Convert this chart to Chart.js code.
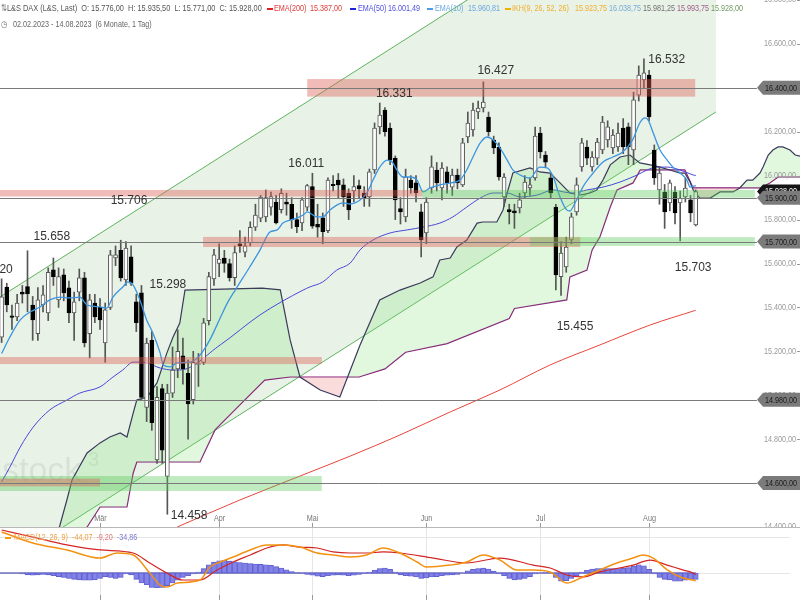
<!DOCTYPE html>
<html>
<head>
<meta charset="utf-8">
<script src="https://cdn.jsdelivr.net/npm/chart.js@4.4.0/dist/chart.umd.min.js"></script>
<style>
  body { margin: 0; background: #fff; }
  #wrap { position: relative; width: 800px; height: 600px; overflow: hidden; }
  canvas { position: absolute; left: 0; }
  #main { top: 0; }
  #sep { position: absolute; left: 0; top: 527px; width: 800px; height: 1px; background: #b8b8b8; }
  #macd { top: 528px; }
  .t { position: absolute; white-space: nowrap; font: 9px 'Liberation Sans', Arial, sans-serif;
       transform: scaleX(0.8); transform-origin: 0 0; }
  .d { position: absolute; height: 2px; width: 6px; }
</style>
</head>
<body>
<div id="wrap">
  <canvas id="main" width="800" height="527"></canvas>
  <div id="sep"></div>
  <canvas id="macd" width="800" height="72"></canvas>

  <div class="t" style="left:1px;top:3px;color:#777">⇅</div>
  <div class="t" style="left:7px;top:3px;color:#555;transform:scaleX(0.82)">L&amp;S DAX (L&amp;S, Last)&nbsp; O: 15.776,00&nbsp; H: 15.935,50&nbsp; L: 15.771,00&nbsp; C: 15.928,00</div>
  <div class="d" style="left:267px;top:8px;background:#e02020"></div>
  <div class="t" style="left:274px;top:3px;color:#e03a3a">EMA(200)</div>
  <div class="t" style="left:310px;top:3px;color:#e03a3a">15.387,00</div>
  <div class="d" style="left:350px;top:8px;background:#2020e0"></div>
  <div class="t" style="left:358px;top:3px;color:#5050e0">EMA(50)</div>
  <div class="t" style="left:388px;top:3px;color:#5050e0">16.001,49</div>
  <div class="d" style="left:427px;top:8px;background:#4a9ee8"></div>
  <div class="t" style="left:435px;top:3px;color:#6aa8e0">EMA(10)</div>
  <div class="t" style="left:468px;top:3px;color:#6aa8e0">15.960,81</div>
  <div class="d" style="left:505px;top:8px;background:#f0b000"></div>
  <div class="t" style="left:512px;top:3px;color:#f0b030">IKH(9, 26, 52, 26)</div>
  <div class="t" style="left:575px;top:3px;color:#f0b030">15.923,75</div>
  <div class="t" style="left:609px;top:3px;color:#78acd8">16.038,75</div>
  <div class="t" style="left:643px;top:3px;color:#707070">15.981,25</div>
  <div class="t" style="left:677px;top:3px;color:#9a5a8a">15.993,75</div>
  <div class="t" style="left:711px;top:3px;color:#6f9a60">15.928,00</div>
  <div class="t" style="left:1px;top:19px;color:#777">◷</div>
  <div class="t" style="left:13px;top:19px;color:#666">02.02.2023 - 14.08.2023&nbsp; (6 Monate, 1 Tag)</div>

  <div class="d" style="left:5px;top:537px;background:#f39c12"></div>
  <div class="t" style="left:14px;top:532px;color:#f0a040">MACD(12, 26, 9)&nbsp; -44,07&nbsp; <span style="color:#e07a7a">-9,20</span>&nbsp; <span style="color:#7a7ad0">-34,86</span></div>
</div>

<script>
'use strict';

// --- daily candles 02.02.2023 .. 14.08.2023 (index = trading day)
var opens = [
  15265,15493,15362,15357,15470,15495,15411,15280,15411,15375,
  15571,15434,15548,15489,15375,15470,15535,15280,15420,15400,
  15238,15400,15625,15660,15525,15630,15425,15466,14945,15250,
  14705,15030,14630,15010,15120,15180,15100,14980,15140,15150,
  15340,15530,15600,15625,15600,15535,15690,15652,15695,15765,
  15807,15812,15857,15880,15845,15880,15870,15800,15785,15857,
  15950,15778,15808,15750,15960,15980,15958,15920,15930,15955,
  15920,15903,16026,16222,16299,16217,16080,15850,15812,15980,
  15967,15835,15739,15944,16026,15944,16017,15948,16003,15958,
  16176,16208,16290,16308,16267,16162,16130,15903,15845,15840,
  15853,15921,15944,15990,16194,16094,15990,15857,15540,15584,
  15707,15835,16040,16130,16040,16080,16117,16163,16126,16131,
  16217,16222,16117,16367,16436,16458,16117,15935,15925,15876,
  15925,15876,15903,15890,15776
];
var highs = [
  15530,15510,15411,15460,15500,15658,15450,15490,15500,15580,
  15625,15580,15575,15520,15470,15575,15560,15460,15460,15440,
  15420,15660,15680,15706,15700,15680,15460,15500,15260,15290,
  15040,15050,15050,15220,15298,15260,15160,15200,15190,15350,
  15560,15665,15690,15660,15620,15680,15750,15720,15790,15870,
  15910,15935,15925,15910,15940,15920,15900,15830,15900,15960,
  16011,15870,15830,15990,16000,16010,15985,15940,16000,15980,
  15950,16030,16240,16331,16310,16240,16090,15900,16030,16000,
  16000,15870,15900,16090,16060,16060,16040,16030,16030,16170,
  16290,16330,16340,16427,16290,16180,16150,16010,15870,15870,
  15920,16000,15990,16221,16220,16110,16010,15870,15700,15720,
  15830,15990,16170,16160,16110,16170,16270,16250,16210,16240,
  16260,16240,16380,16500,16532,16480,16140,16040,15960,15980,
  15950,15930,15990,15910,15935.5
];
var lows = [
  15240,15380,15300,15340,15420,15380,15250,15250,15380,15340,
  15500,15400,15430,15330,15250,15430,15220,15170,15330,15300,
  15150,15390,15590,15520,15500,15500,15290,14980,14880,14840,
  14690,14690,14458,14990,15080,15050,14800,14960,15040,15140,
  15320,15500,15540,15560,15520,15500,15650,15630,15680,15750,
  15790,15790,15820,15780,15830,15820,15760,15740,15750,15840,
  15760,15720,15690,15740,15930,15900,15860,15800,15880,15900,
  15860,15860,16010,16190,16180,16050,15800,15780,15790,15920,
  15880,15630,15690,15920,15930,15890,15920,15910,15940,15950,
  16150,16180,16260,16290,16180,16100,15980,15860,15780,15760,
  15830,15900,15910,15980,16080,16040,15900,15480,15455,15560,
  15690,15820,16020,16050,16020,16050,16100,16130,16100,16110,
  16100,16050,16050,16340,16400,16250,15960,15870,15760,15840,
  15780,15703,15880,15790,15771
];
var closes = [
  15448,15411,15355,15420,15460,15462,15343,15434,15457,15560,
  15540,15540,15466,15375,15425,15535,15238,15434,15357,15343,
  15389,15640,15640,15534,15670,15510,15330,14990,15238,14875,
  14990,14750,15010,15115,15200,15120,14960,15150,15140,15330,
  15540,15640,15620,15600,15535,15650,15680,15680,15765,15820,
  15903,15900,15905,15785,15920,15870,15800,15768,15890,15955,
  15770,15766,15745,15980,15955,15958,15903,15844,15950,15940,
  15900,16017,16217,16276,16200,16071,15890,15835,15994,15944,
  15921,15707,15880,16040,15967,16035,15967,16003,15967,16149,
  16240,16299,16308,16335,16200,16126,15994,15994,15835,15830,
  15890,15971,15958,16180,16108,16062,15921,15548,15648,15675,
  15812,15958,16149,16080,16085,16153,16244,16222,16185,16194,
  16131,16131,16345,16458,16468,16267,15990,16012,15835,15967,
  15830,15898,15944,15830,15928
];

// --- month ticks (trading day index of first day)
var monthIdx = [19, 42, 60, 82, 104, 125];
var monthNames = ['Mär', 'Apr', 'Mai', 'Jun', 'Jul', 'Aug'];

// --- EMAs [index, value]
var ema10 = [[0,15190],[1.6,15265],[3.6,15343],[5.5,15379],[7.4,15402],[9.3,15434],[11.3,15447],[13.2,15443],[15.1,15447],[16.5,15411],
  [19,15402],[20.3,15397],[21.5,15447],[23.4,15493],[24.4,15516],[25.4,15502],[26.7,15434],[28,15343],[29.2,15284],[30.6,15193],
  [31.2,15138],[32.5,15129],[33.9,15147],[36.4,15151],[38.3,15183],[40.2,15252],[42.2,15352],[43.7,15425],[45.1,15479],[47.9,15584],
  [49.9,15662],[51.8,15743],[53.2,15753],[54.3,15784],[55.7,15798],[57,15807],[58.2,15821],[59,15835],[60.9,15812],[62,15812],
  [63.4,15844],[64.7,15866],[65.9,15876],[67.3,15871],[69.2,15889],[70.5,15921],[71.7,15980],[73,16039],[74.4,16071],[75.4,16062],
  [76.3,16026],[77.5,15994],[78.8,15994],[80.2,15980],[81.4,15926],[82.7,15944],[84.6,15958],[86.6,15967],[88.5,15980],[89.8,16026],
  [91,16085],[92.4,16149],[93.7,16176],[94.9,16162],[96.2,16126],[97.6,16071],[98.7,16026],[100.1,16003],[102,15989],[103.9,16039],
  [105.3,16035],[106.5,15994],[107.8,15903],[109.1,15844],[109.7,15839],[110.7,15876],[112.2,15948],[114.2,16012],[116.1,16062],[118,16085],
  [119.9,16108],[121.8,16162],[123.2,16240],[124.2,16263],[124.8,16254],[125.8,16194],[127.1,16117],[128.5,16071],[129.6,16039],[131,16012],
  [132.3,15980],[132.9,15948],[134,15955]];
var ema50 = [[0,14605],[1.6,14673],[3.6,14764],[6.1,14855],[9.3,14933],[12.6,14978],[15.1,15010],[19,15038],[21.5,15083],[23.4,15115],
  [25.4,15151],[26.7,15151],[28.1,15147],[30.6,15124],[33.1,15115],[34.4,15115],[42.2,15229],[49.9,15366],[58.2,15479],[59.5,15493],
  [62,15516],[64.7,15570],[67.3,15602],[69.2,15662],[71.7,15707],[75,15739],[78.3,15753],[81.4,15766],[84.6,15784],[87.1,15812],
  [89.8,15857],[92.4,15898],[94.9,15921],[97.6,15921],[100.1,15903],[103.4,15912],[106.5,15935],[108.5,15926],[110.3,15921],[113,15935],
  [116.1,15948],[119.4,15971],[121.3,15989],[122.7,16003],[124.6,16026],[126.5,16039],[128.5,16039],[131,16026],[133.5,16003],[134,16001]];
var ema200 = [[33.9,14400],[46,14523],[57.6,14632],[67.3,14723],[76.9,14819],[86.6,14924],[96.2,15024],[105.9,15138],[115.5,15229],[125.2,15320],[134,15387]];

// --- Ichimoku cloud lines (Senkou A / Senkou B), shifted 26 days forward
var spanA = [[10,14300],[12.6,14523],[13.6,14614],[16.5,14737],[19,14783],[20.9,14810],[22.9,14828],[24.2,14810],[25.4,14919],[26.1,14978],
  [28.1,14992],[30,15056],[31.9,15192],[33.1,15265],[34.4,15329],[35.4,15479],[50.3,15488],[53.8,15480],[55.7,15252],[57.6,15083],
  [61.5,15024],[65.3,14992],[69.2,15229],[73,15434],[76.9,15479],[80.8,15511],[83.3,15539],[84.6,15616],[86.6,15625],[87.9,15675],
  [89.8,15707],[91.8,15784],[92.9,15789],[95.6,15789],[96.8,15844],[97.6,15921],[98.7,16012],[102,16035],[103.9,16017],[105.9,16012],
  [107.8,15967],[109.7,15921],[111.7,15912],[113.6,15921],[114.9,15935],[116.1,15980],[117.5,16049],[119.4,16085],[121.3,16094],[123.2,16058],
  [125.2,16049],[127.1,16039],[129,16026],[131,16012],[131.9,16012],[132.9,15971],[133.5,15935],[134.8,15898],[136.8,15898],[138.7,15926],
  [141.2,15926],[142.5,15944],[143.9,15980],[145,15980],[146.4,16012],[147,16039],[148,16094],[148.9,16117],[149.9,16131],[150.8,16131],
  [152.2,16117],[153.2,16094],[155,16085]];
var spanB = [[10,14250],[16.5,14400],[19,14491],[24.2,14491],[25.4,14646],[26.1,14696],[38.3,14696],[41.2,14842],[46,14956],[50.8,15069],
  [55.7,15083],[69,15083],[74,15120],[78,15196],[86,15235],[98,15349],[99,15395],[109.1,15434],[109.7,15539],[113,15570],
  [114,15662],[115.5,15721],[117.5,15857],[118.8,15935],[121.9,15967],[123.3,16026],[131.9,16026],[133.5,15944],[146.4,15944],[148.3,15967],
  [149.9,15994],[155,15994]];

// --- trend channel (two parallel lines), [index, value]
var chanUpper = [[-1, 15437], [137.9, 17520]];
var chanLower = [[-1, 14207], [137.9, 16290]];

// --- support / resistance zones and lines
var zoneLo   = [16360, 15905, 15900, 15675, 15680, 15142, 14564, 14585];
var zoneHi   = [16440, 15935, 15935, 15721, 15720, 15174, 14632, 14620];
var zoneFrom = [59, -1, 81.2, 38.9, 102, -1, -1, -1];
var zoneTo   = [133.9, 81.2, 145.4, 111.7, 145.4, 61.8, 61.8, 19];
var zoneKind = ['r', 'r', 'g', 'r', 'g', 'r', 'g', 'r'];
var levels = [16400, 15900, 15700, 14980, 14600];
var lastPrice = 15928;

// --- high / low marks
var markText = ['16.532', '16.427', '16.331', '16.011', '15.706', '15.658', '15.298', '14.458', '15.455', '15.703'];
var markIdx  = [128.4, 95.4, 75.8, 58.8, 24.6, 9.7, 32.1, 36.2, 110.7, 133.5];
var markVal  = [16527, 16477, 16372, 16053, 15885, 15721, 15502, 14450, 15311, 15580];

// --- MACD(12, 26, 9)
var macdHist = [
  0,0,0,0,-5,-10,-12,-10,-8,-10,
  -15,-20,-25,-30,-35,-38,-40,-40,-38,-30,
  -20,-25,-30,-25,-5,-10,-35,-55,-65,-80,
  -82,-80,-70,-55,-40,-25,-15,-5,5,25,
  45,60,68,70,66,62,58,55,52,50,
  48,46,42,35,28,18,8,2,-2,-8,
  -12,-18,-20,-15,-12,-10,-12,-15,-12,-8,
  -2,5,15,25,28,20,5,-10,-15,-18,
  -22,-30,-28,-22,-20,-15,-12,-10,-8,0,
  12,20,25,28,22,10,-5,-15,-30,-38,
  -35,-30,-20,-5,0,2,0,-25,-45,-42,
  -30,-15,5,15,22,25,25,25,24,25,
  26,30,38,45,40,20,-5,-25,-35,-38,
  -45,-45,-40,-38,-35
];
var macdLine = [[0,228],[6,167],[12.6,128],[19,83],[22.3,111],[25.4,100],[28.6,0],[30.6,-67],[31.9,-78],[33.9,-56],
  [38.3,-39],[40.2,33],[42.2,61],[44.7,89],[48,128],[51.2,156],[54.3,156],[57.6,144],[60.9,111],[64,100],
  [67.3,89],[70.5,100],[73.6,139],[76.9,111],[80.2,61],[82.1,33],[86.6,44],[89.8,61],[93,100],[96.2,72],
  [99.5,17],[102.6,17],[105.9,6],[109.1,-56],[112.2,-22],[115.5,17],[118.8,56],[121.9,83],[123.8,100],[125.8,83],
  [128.5,17],[131.5,-28],[133.5,-39],[134,-44]];
var signalLine = [[0,239],[6,200],[12.6,156],[19,128],[25.4,111],[28.6,56],[31.9,0],[35,-39],[38.3,-39],[41.6,17],
  [44.7,61],[48,100],[51.2,139],[54.3,156],[57.6,144],[60.9,139],[64,117],[67.3,111],[70.5,111],[73.6,117],
  [76.9,111],[83.3,83],[89.8,56],[96.2,83],[102.6,44],[105.9,28],[109.1,-11],[112.2,-22],[115.5,6],[121.9,44],
  [125.2,72],[128.5,44],[131.5,17],[133.5,0],[134,-9]];

var X_MIN = -0.309, X_MAX = 154.13;
var FONT = "'Liberation Sans', Arial, sans-serif";

function fmt(v) {
  var s = Math.abs(v).toFixed(2).split('.');
  return (v < 0 ? '-' : '') + s[0].replace(/\B(?=(\d{3})+(?!\d))/g, '.') + ',' + s[1];
}
function pts(arr) { return arr.map(function(p) { return {x: p[0], y: p[1]}; }); }
function lineSet(arr, color, width, extra) {
  return Object.assign({type: 'line', data: pts(arr), borderColor: color, borderWidth: width,
    pointRadius: 0, fill: false, tension: 0}, extra || {});
}
// narrow text: the source chart uses a condensed face
function ntext(ctx, s, x, y, align) {
  ctx.save();
  ctx.translate(x, y);
  ctx.scale(0.8, 1);
  ctx.textAlign = align;
  ctx.fillText(s, 0, 0);
  ctx.restore();
}

var bodies = closes.map(function(c, i) { return {x: i, y: [opens[i], c]}; });
var wicks = highs.map(function(h, i) { return {x: i, y: [lows[i], h]}; });
var bull = closes.map(function(c, i) { return c >= opens[i]; });

function box(ctx, xl, yc, text, fill, color) {
  ctx.beginPath();
  ctx.moveTo(xl, yc);
  ctx.lineTo(xl + 6, yc - 7);
  ctx.lineTo(800, yc - 7);
  ctx.lineTo(800, yc + 7);
  ctx.lineTo(xl + 6, yc + 7);
  ctx.closePath();
  ctx.fillStyle = fill;
  ctx.fill();
  ctx.fillStyle = color;
  ctx.font = '9px ' + FONT;
  ctx.textBaseline = 'middle';
  ntext(ctx, text, xl + 8, yc + 0.5, 'left');
}

var mainOverlay = {
  id: 'mainOverlay',
  beforeDatasetsDraw: function(chart) {
    var ctx = chart.ctx;
    ctx.save();
    ctx.font = '34px ' + FONT;
    ctx.fillStyle = 'rgba(0,0,0,0.09)';
    ctx.textBaseline = 'alphabetic';
    ctx.fillText('stock', 2, 481);
    ctx.font = '20px ' + FONT;
    ctx.fillText('3', 88, 466);
    ctx.restore();
  },
  afterDatasetsDraw: function(chart) {
    var ctx = chart.ctx, x = chart.scales.x, y = chart.scales.y;
    ctx.save();
    // zones
    zoneLo.forEach(function(lo, i) {
      var x0 = x.getPixelForValue(zoneFrom[i]), x1 = x.getPixelForValue(zoneTo[i]);
      var y0 = y.getPixelForValue(zoneHi[i]), y1 = y.getPixelForValue(lo);
      ctx.fillStyle = zoneKind[i] === 'r' ? 'rgba(222,95,85,0.42)' : 'rgba(90,200,90,0.38)';
      ctx.fillRect(x0, y0, x1 - x0, y1 - y0);
    });
    // horizontal levels
    var xr = x.getPixelForValue(145.8);
    ctx.strokeStyle = '#7a7a7a';
    ctx.lineWidth = 1;
    levels.forEach(function(v) {
      var py = Math.round(y.getPixelForValue(v)) + 0.5;
      ctx.beginPath(); ctx.moveTo(0, py); ctx.lineTo(xr, py); ctx.stroke();
    });
    // high/low marks
    ctx.font = '12px ' + FONT;
    ctx.fillStyle = '#333';
    ctx.textAlign = 'center';
    ctx.textBaseline = 'middle';
    markText.forEach(function(t, i) {
      ctx.fillText(t, x.getPixelForValue(markIdx[i]), y.getPixelForValue(markVal[i]));
    });
    ctx.textAlign = 'right';
    ctx.fillText('15.520', x.getPixelForValue(2.15), y.getPixelForValue(15570));
    // month labels
    ctx.font = '9px ' + FONT;
    ctx.fillStyle = '#777';
    ctx.strokeStyle = '#999';
    monthIdx.forEach(function(m, i) {
      var px = Math.round(x.getPixelForValue(m)) + 0.5;
      ntext(ctx, monthNames[i], px, 519, 'center');
      ctx.beginPath(); ctx.moveTo(px, 523); ctx.lineTo(px, 527); ctx.stroke();
    });
    // price axis labels
    ctx.fillStyle = '#999';
    y.ticks.forEach(function(t) {
      var py = y.getPixelForValue(t.value);
      ntext(ctx, fmt(t.value), 796, py, 'right');
      ctx.fillRect(797, Math.round(py), 3, 1);
    });
    // level boxes
    box(ctx, 757, y.getPixelForValue(lastPrice), fmt(lastPrice), '#151515', '#fff');
    levels.forEach(function(v) {
      box(ctx, 757, y.getPixelForValue(v), fmt(v), '#7b7b7b', '#1a1a1a');
    });
    ctx.restore();
  }
};

new Chart(document.getElementById('main'), {
  type: 'line',
  data: {
    datasets: [
      lineSet(chanUpper, '#5fb35f', 1, {fill: {target: 1}, backgroundColor: 'rgba(150,195,140,0.22)', order: 100}),
      lineSet(chanLower, '#5fb35f', 1, {order: 99}),
      lineSet(spanB, '#84197a', 1.2, {order: 60}),
      lineSet(spanA, '#3a3a5c', 1.2, {order: 59,
        fill: {target: 2, above: 'rgba(120,225,110,0.22)', below: 'rgba(240,140,140,0.3)'}}),
      lineSet(ema200, '#e8453c', 1, {order: 40, cubicInterpolationMode: 'monotone'}),
      lineSet(ema50, '#4848d8', 1, {order: 39, cubicInterpolationMode: 'monotone'}),
      {type: 'bar', data: wicks, backgroundColor: '#555', barThickness: 1, grouped: false, order: 10},
      {type: 'bar', data: bodies, grouped: false, order: 9, barThickness: 4, borderWidth: 1, borderSkipped: false,
        minBarLength: 1,
        backgroundColor: bull.map(function(b) { return b ? '#ffffff' : '#000000'; }),
        borderColor: bull.map(function(b) { return b ? '#555555' : '#000000'; })},
      lineSet(ema10, '#3d95e0', 1.3, {order: 5, cubicInterpolationMode: 'monotone'})
    ]
  },
  options: {
    responsive: false, animation: false, events: [],
    layout: {padding: 0},
    plugins: {legend: {display: false}, tooltip: {enabled: false}},
    scales: {
      x: {type: 'linear', min: X_MIN, max: X_MAX, offset: false, display: false},
      y: {type: 'linear', min: 14400, max: 16800, display: false, ticks: {stepSize: 200}}
    }
  },
  plugins: [mainOverlay]
});

var macdOverlay = {
  id: 'macdOverlay',
  beforeDatasetsDraw: function(chart) {
    var ctx = chart.ctx, x = chart.scales.x, y = chart.scales.y;
    ctx.save();
    ctx.strokeStyle = '#e6e6e6';
    ctx.lineWidth = 1;
    monthIdx.forEach(function(m) {
      var px = Math.round(x.getPixelForValue(m)) + 0.5;
      ctx.beginPath(); ctx.moveTo(px, 0); ctx.lineTo(px, 72); ctx.stroke();
    });
    [0, 200].forEach(function(v) {
      var py = Math.round(y.getPixelForValue(v)) + 0.5;
      ctx.beginPath(); ctx.moveTo(0, py); ctx.lineTo(790, py); ctx.stroke();
    });
    ctx.strokeStyle = '#999';
    monthIdx.forEach(function(m) {
      var px = Math.round(x.getPixelForValue(m)) + 0.5;
      ctx.beginPath(); ctx.moveTo(px, 67); ctx.lineTo(px, 72); ctx.stroke();
    });
    ctx.font = '9px ' + FONT;
    ctx.fillStyle = '#999';
    ctx.textBaseline = 'middle';
    y.ticks.forEach(function(t) {
      if (t.value % 200 !== 0) return;
      var py = y.getPixelForValue(t.value);
      ntext(ctx, fmt(t.value), 796, py, 'right');
      ctx.fillRect(797, Math.round(py), 3, 1);
    });
    ctx.restore();
  }
};

new Chart(document.getElementById('macd'), {
  type: 'line',
  data: {
    datasets: [
      lineSet([[X_MIN, 0], [134, 0]], '#2a2aa0', 1, {order: 30}),
      {type: 'bar', data: macdHist.map(function(v, i) { return {x: i, y: v}; }), grouped: false, order: 20,
        barThickness: 5, backgroundColor: 'rgba(118,118,228,0.9)', borderColor: '#5a5ac8', borderWidth: 0.6,
        borderSkipped: false},
      lineSet(signalLine, '#d42424', 1.2, {order: 10, cubicInterpolationMode: 'monotone'}),
      lineSet(macdLine, '#f39212', 1.5, {order: 9, cubicInterpolationMode: 'monotone'})
    ]
  },
  options: {
    responsive: false, animation: false, events: [],
    layout: {padding: 0},
    plugins: {legend: {display: false}, tooltip: {enabled: false}},
    scales: {
      x: {type: 'linear', min: X_MIN, max: X_MAX, offset: false, display: false},
      y: {type: 'linear', min: -150, max: 250, display: false, ticks: {stepSize: 200}}
    }
  },
  plugins: [macdOverlay]
});
</script>
</body>
</html>
